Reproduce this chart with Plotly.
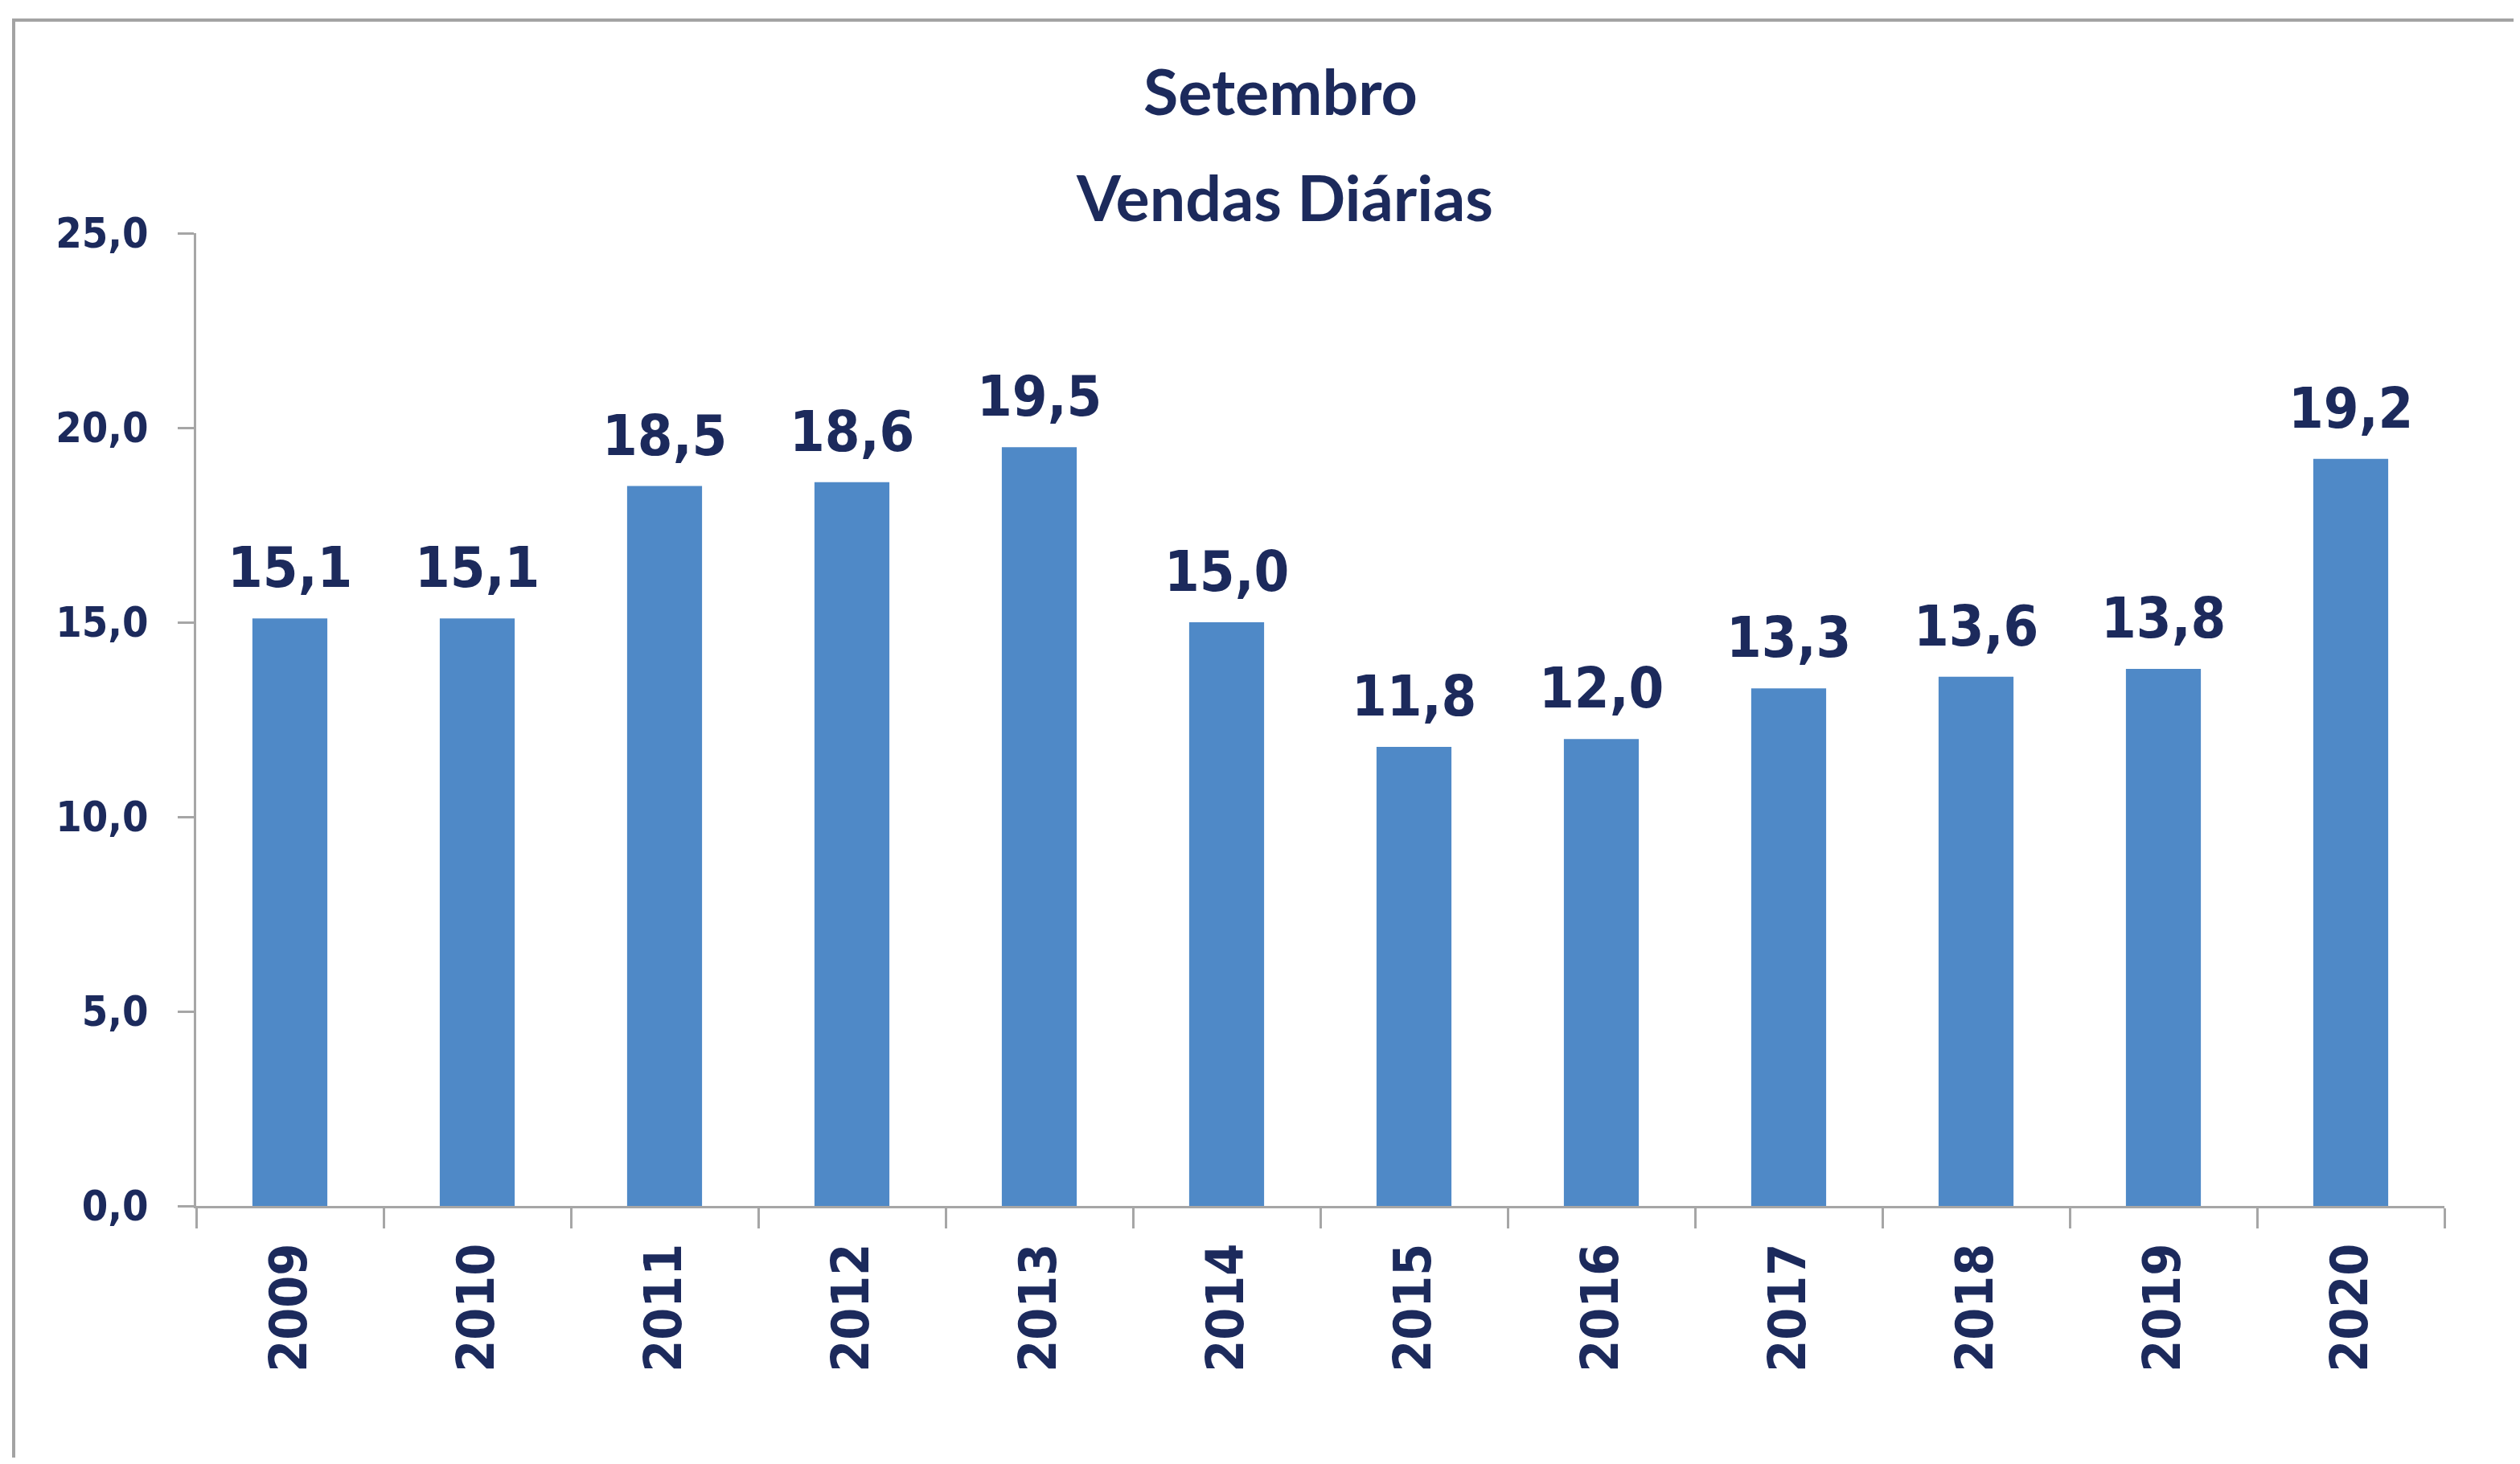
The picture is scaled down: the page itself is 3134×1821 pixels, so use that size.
import plotly.graph_objects as go

years = ["2009", "2010", "2011", "2012", "2013", "2014", "2015", "2016", "2017", "2018", "2019", "2020"]
vendas = [15.1, 15.1, 18.5, 18.6, 19.5, 15.0, 11.8, 12.0, 13.3, 13.6, 13.8, 19.2]
title_line1 = "Setembro"
title_line2 = "Vendas Diárias"
y_ticks = [0, 5, 10, 15, 20, 25]

OFF = 8                          # browser body margin
W, H = 3134 - 2 * OFF, 1821 - 2 * OFF
L, R = 244 - OFF, 3040 - OFF     # plot area x pixels (figure coords)
T, B = 290 - OFF, 1500 - OFF     # plot area y pixels (25 -> T, 0 -> B)

TXT = "#1C2A5C"
BAR = "#4F89C7"
AX = "#A6A6A6"
NUMFONT = "DejaVu Sans Condensed, DejaVu Sans"

fig = go.Figure()
fig.add_trace(go.Bar(
    x=years, y=vendas,
    marker=dict(color=BAR, line=dict(width=0)),
    hoverinfo="skip",
))

pw, ph = R - L, B - T

def px_x(px):
    return (px - OFF - L) / pw

def px_y(py):
    return (B - (py - OFF)) / ph

annotations = []
for i, v in enumerate(vendas):
    annotations.append(dict(
        x=i, y=v, xref="x", yref="y",
        text=f"{v:.1f}".replace(".", ","),
        showarrow=False, yanchor="bottom", xanchor="center",
        yshift=20,
        font=dict(family=NUMFONT, size=70, color=TXT, weight="bold"),
    ))

annotations.append(dict(
    x=px_x(1592), y=px_y(112), xref="paper", yref="paper",
    text=title_line1, showarrow=False, xanchor="center", yanchor="middle",
    font=dict(family="Lato", size=79, color=TXT, weight="bold"),
))
annotations.append(dict(
    x=px_x(1597), y=px_y(244), xref="paper", yref="paper",
    text=title_line2, showarrow=False, xanchor="center", yanchor="middle",
    font=dict(family="Lato", size=79, color=TXT, weight="bold"),
))

fig.update_layout(
    width=W, height=H,
    margin=dict(l=L, r=W - R, t=T, b=H - B, pad=0, autoexpand=False),
    paper_bgcolor="white", plot_bgcolor="white",
    showlegend=False,
    bargap=0.6,
    separators=",.",
    annotations=annotations,
    shapes=[dict(
        type="rect", xref="paper", yref="paper",
        x0=px_x(17), x1=px_x(3200), y0=px_y(1900), y1=px_y(25),
        line=dict(color="#A3A3A3", width=4), fillcolor="rgba(0,0,0,0)",
        layer="below",
    )],
    xaxis=dict(
        type="category", automargin=False,
        showline=True, linecolor=AX, linewidth=3,
        ticks="outside", tickson="boundaries", ticklen=25, tickwidth=3, tickcolor=AX,
        tickangle=-90,
        tickfont=dict(family=NUMFONT, size=64, color=TXT, weight="bold"),
        ticklabelstandoff=18,
        showgrid=False, zeroline=False,
        range=[-0.5, len(years) - 0.5],
    ),
    yaxis=dict(
        range=[0, 25], automargin=False,
        tickvals=y_ticks, tickformat=".1f",
        showline=True, linecolor=AX, linewidth=3,
        ticks="outside", ticklen=20, tickwidth=3, tickcolor=AX,
        tickfont=dict(family=NUMFONT, size=52, color=TXT, weight="bold"),
        ticklabelstandoff=26,
        showgrid=False, zeroline=False,
    ),
)

fig.write_html("out.html")
